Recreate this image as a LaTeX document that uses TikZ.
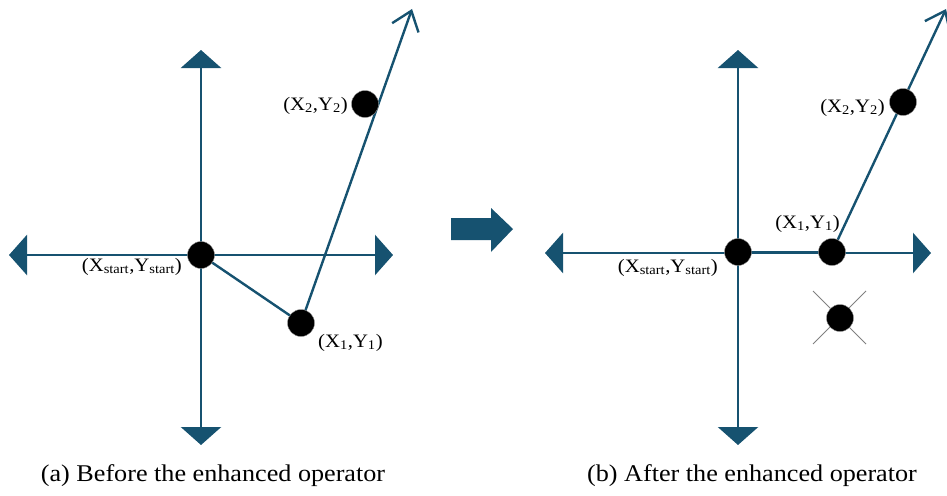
\documentclass[tikz,border=0pt]{standalone}
\usepackage{fontspec}
\setmainfont{Liberation Serif}
\usetikzlibrary{arrows.meta}
\pgfdeclarelayer{bg}
\pgfsetlayers{bg,main}
\definecolor{ax}{RGB}{22,82,112}
\newcommand{\wide}[1]{\scalebox{1.09}[1]{#1}}
\tikzset{
  axisline/.style={draw=ax, line width=2.8pt, {Triangle[length=18pt,width=40pt]}-{Triangle[length=18pt,width=40pt]}},
  segline/.style={draw=ax, line width=2.4pt},
  rayline/.style={draw=ax, line width=2.4pt, -{Straight Barb[length=18pt,width=28pt,line width=2.4pt]}},
  ptnode/.style={circle, fill=black, draw=black!40, line width=0.4pt, minimum size=27pt, inner sep=0pt},
  lbltxt/.style={font=\fontsize{19}{21}\selectfont, inner sep=0pt},
  captxt/.style={font=\fontsize{24}{27}\selectfont, inner sep=0pt},
  crossline/.style={draw=black!50, line width=1pt}
}
\begin{document}
\begin{tikzpicture}[x=1pt,y=-1pt]
\useasboundingbox (0,0) rectangle (947,495);
% ---------- panel (a) ----------
\coordinate (aT) at (201,50);
\coordinate (aB) at (201,445);
\coordinate (aL) at (9,255);
\coordinate (aR) at (393,255);
\node[ptnode] (as) at (201,255) {};
\node[ptnode] (a1) at (301,323) {};
\node[ptnode] (a2) at (365,104) {};
\coordinate (atip) at (412,9);
\begin{pgfonlayer}{bg}
\draw[axisline] (aT) -- (aB);
\draw[axisline] (aL) -- (aR);
\draw[segline] (as.center) -- (a1.center);
\draw[rayline] (a1.center) -- (atip);
\end{pgfonlayer}
\node[lbltxt, anchor=base east] (las) at (182,271) {\wide{(X\textsubscript{start},Y\textsubscript{start})}};
\node[lbltxt, anchor=base west] (la1) at (318,347) {\wide{(X\textsubscript{1},Y\textsubscript{1})}};
\node[lbltxt, anchor=base east] (la2) at (348,110) {\wide{(X\textsubscript{2},Y\textsubscript{2})}};
% ---------- middle arrow ----------
\path[fill=ax] (451,218) -- (491,218) -- (491,208) -- (513,229) -- (491,252) -- (491,240) -- (451,240) -- cycle;
% ---------- panel (b) ----------
\coordinate (bT) at (738,50);
\coordinate (bB) at (738,445);
\coordinate (bL) at (545,253);
\coordinate (bR) at (931,253);
\node[ptnode] (bs) at (738,252) {};
\node[ptnode] (b1) at (832,252) {};
\node[ptnode] (b2) at (903,102) {};
\node[ptnode] (bx) at (840,318) {};
\coordinate (btip) at (946,9);
\begin{pgfonlayer}{bg}
\draw[axisline] (bT) -- (bB);
\draw[axisline] (bL) -- (bR);
\draw[segline] (bs.center) -- (b1.center);
\draw[rayline] (b1.center) -- (btip);
\draw[crossline] ([shift={(-27,-27)}]bx.center) -- ([shift={(26,26)}]bx.center);
\draw[crossline] ([shift={(26,-27)}]bx.center) -- ([shift={(-27,26)}]bx.center);
\end{pgfonlayer}
\node[lbltxt, anchor=base east] (lbs) at (718,272) {\wide{(X\textsubscript{start},Y\textsubscript{start})}};
\node[lbltxt, anchor=base east] (lb1) at (840,228) {\wide{(X\textsubscript{1},Y\textsubscript{1})}};
\node[lbltxt, anchor=base east] (lb2) at (885,112) {\wide{(X\textsubscript{2},Y\textsubscript{2})}};
% ---------- captions ----------
\node[captxt, anchor=base] (ca) at (213,481) {\wide{(a) Before the enhanced operator}};
\node[captxt, anchor=base] (cb) at (752,481) {\wide{(b) After the enhanced operator}};
\end{tikzpicture}
\end{document}
